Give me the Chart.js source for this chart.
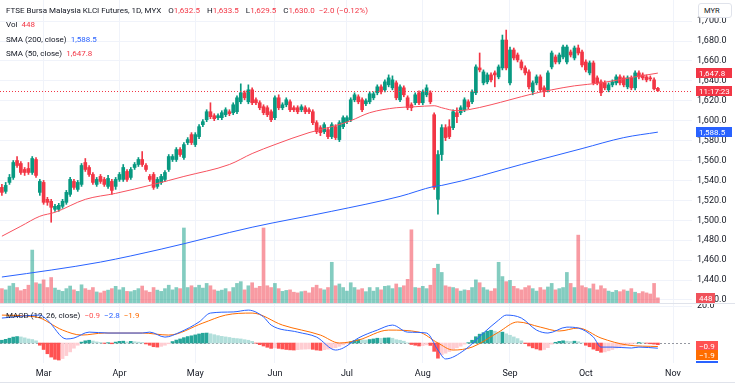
<!DOCTYPE html>
<html>
<head>
<meta charset="utf-8">
<script src="https://cdn.jsdelivr.net/npm/chart.js@4.4.1/dist/chart.umd.min.js"></script>
<style>
  html, body { margin: 0; padding: 0; background: #fff; }
  #wrap { position: relative; width: 735px; height: 383px; overflow: hidden; font-family: Roboto, Arial, sans-serif; }
  canvas { position: absolute; left: 0; }
  #main { top: 0; }
  #osc { top: 304px; }
  .leg { position: absolute; left: 6px; font-size: 8px; color: #131722; white-space: nowrap; line-height: 10px; }
  .leg span { margin-left: 4px; }
  .leg span.v { margin-left: 0; }
  .leg b { font-weight: normal; margin-left: 7px; }
  .sep { position: absolute; left: 0; width: 735px; height: 1px; background: #e0e3eb; }
  #cur { position: absolute; left: 698px; top: 3px; width: 34px; height: 15px; border: 1px solid #e0e3eb; border-radius: 3px; font-size: 7.5px; line-height: 13px; color: #131722; padding-left: 5px; box-sizing: border-box; background: #fff; }
</style>
</head>
<body>
<div id="wrap">
  <canvas id="main" width="735" height="304"></canvas>
  <canvas id="osc" width="735" height="79"></canvas>
  <div class="sep" style="top:303px"></div>
  <div class="sep" style="top:382px"></div>
  <div id="cur">MYR</div>
  <div class="leg" id="l1" style="top:6px"></div>
  <div class="leg" id="l2" style="top:20px"></div>
  <div class="leg" id="l3" style="top:35px"></div>
  <div class="leg" id="l4" style="top:49px"></div>
  <div class="leg" id="l5" style="top:311px"></div>
</div>
<script>
// Daily candles, mid Feb -> 25 Oct (bar index 0..173)
const opens = [
  1533,1529,1538,1543,1560,1557,1551,1552,1548,1561,
  1528,1538,1521,1519,1511,1511,1514,1518,1526,1539,
  1531,1536,1558,1553,1546,1536,1544,1541,1534,1539,
  1534,1541,1541,1549,1543,1553,1556,1561,1555,1544,
  1546,1534,1538,1541,1551,1561,1561,1571,1563,1578,
  1586,1576,1584,1596,1601,1609,1605,1603,1603,1606,
  1609,1608,1609,1619,1628,1619,1631,1621,1618,1614,
  1613,1609,1603,1623,1613,1616,1619,1613,1613,1611,
  1613,1611,1609,1598,1593,1589,1591,1584,1594,1581,
  1594,1599,1601,1621,1624,1621,1617,1619,1623,1628,
  1634,1631,1636,1633,1638,1621,1633,1623,1616,1618,
  1628,1618,1626,1628,1606,1521,1566,1593,1594,1593,
  1608,1608,1611,1619,1619,1628,1653,1638,1639,1646,
  1648,1644,1653,1681,1638,1671,1666,1659,1653,1649,
  1629,1638,1644,1633,1631,1654,1664,1659,1664,1659,
  1669,1663,1673,1669,1659,1648,1658,1643,1639,1638,
  1631,1636,1638,1644,1643,1634,1643,1633,1648,1646,
  1644,1643,1641,1632.5
];
const highs = [
  1536,1538,1546,1560,1564,1559,1553,1558,1564,1563,
  1541,1540,1523,1521,1516,1517,1521,1530,1543,1541,
  1540,1557,1562,1555,1548,1543,1546,1543,1545,1541,
  1543,1548,1556,1551,1553,1558,1563,1569,1557,1546,
  1548,1543,1546,1550,1566,1566,1573,1573,1578,1583,
  1588,1588,1596,1601,1611,1618,1607,1607,1610,1613,
  1611,1618,1625,1637,1630,1636,1633,1623,1620,1616,
  1615,1611,1625,1626,1618,1623,1621,1615,1615,1616,
  1615,1613,1611,1600,1595,1598,1593,1598,1596,1600,
  1605,1605,1623,1628,1626,1623,1622,1629,1629,1636,
  1636,1641,1646,1645,1640,1636,1635,1625,1618,1628,
  1630,1631,1636,1630,1608,1570,1596,1596,1601,1611,
  1613,1615,1623,1621,1631,1656,1668,1651,1648,1648,
  1650,1656,1686,1691,1674,1673,1668,1661,1655,1651,
  1640,1646,1646,1635,1650,1670,1666,1668,1676,1676,
  1671,1675,1676,1671,1661,1660,1660,1645,1641,1640,
  1638,1641,1646,1646,1645,1645,1645,1650,1650,1648,
  1646,1645,1643,1633.5
];
const lows = [
  1525,1527,1536,1541,1553,1546,1545,1546,1546,1543,
  1525,1516,1515,1498,1509,1509,1512,1516,1524,1531,
  1529,1534,1549,1544,1536,1534,1537,1534,1532,1526,
  1531,1539,1539,1539,1541,1551,1554,1554,1549,1539,
  1531,1532,1536,1539,1549,1559,1559,1564,1561,1576,
  1576,1574,1582,1594,1599,1602,1600,1601,1601,1604,
  1605,1606,1607,1617,1621,1617,1616,1616,1611,1606,
  1604,1599,1601,1611,1611,1614,1609,1609,1607,1609,
  1607,1607,1596,1587,1585,1587,1582,1582,1581,1579,
  1592,1597,1599,1619,1617,1609,1615,1617,1621,1626,
  1627,1629,1634,1631,1621,1619,1624,1611,1610,1616,
  1616,1616,1624,1617,1531,1506,1560,1580,1582,1591,
  1598,1606,1609,1612,1617,1626,1649,1636,1637,1639,
  1634,1642,1651,1651,1636,1661,1659,1651,1646,1632,
  1626,1636,1629,1624,1629,1652,1657,1657,1662,1657,
  1664,1661,1666,1654,1649,1646,1636,1636,1625,1631,
  1629,1634,1636,1636,1634,1632,1631,1631,1642,1641,
  1639,1640,1631,1629.5
];
const closes = [
  1528,1535,1543,1558,1555,1548,1548,1548,1562,1545,
  1539,1518,1518,1513,1514,1515,1519,1528,1541,1533,
  1538,1555,1551,1546,1538,1541,1539,1536,1542,1530,
  1541,1546,1553,1541,1551,1556,1561,1556,1551,1541,
  1533,1541,1544,1548,1564,1564,1571,1566,1576,1581,
  1578,1586,1594,1599,1609,1604,1602,1605,1608,1611,
  1607,1616,1623,1628,1623,1631,1618,1618,1613,1608,
  1606,1601,1623,1613,1616,1621,1611,1611,1609,1614,
  1609,1609,1598,1589,1588,1596,1584,1596,1583,1598,
  1603,1603,1621,1626,1619,1611,1620,1627,1627,1634,
  1629,1639,1643,1641,1623,1634,1626,1613,1613,1626,
  1618,1629,1633,1619,1533,1566,1593,1583,1584,1609,
  1604,1613,1621,1614,1629,1654,1651,1649,1646,1641,
  1646,1654,1681,1653,1671,1663,1661,1653,1648,1634,
  1638,1644,1631,1629,1648,1668,1659,1666,1674,1674,
  1666,1673,1668,1656,1651,1658,1638,1638,1628,1633,
  1636,1639,1644,1638,1636,1643,1633,1648,1644,1643,
  1641,1642,1632,1630.0
];
const volumes = [
  1120,1030,1310,1500,1200,970,1070,1370,3930,1550,
  1460,1760,1200,1930,1160,1010,920,1120,1310,1030,
  920,1400,1120,1010,1200,880,810,940,1010,1120,
  1290,1030,1200,920,900,990,1120,1310,970,860,
  1200,1010,920,1120,1370,1030,1200,1120,5540,1200,
  1330,1200,1370,1160,1500,1330,1030,940,1010,1120,
  900,1200,1500,1630,1030,1330,1550,1160,1290,5540,
  1330,1200,1500,1120,920,990,1030,860,810,900,
  940,810,1200,1370,1120,1030,1200,3040,1330,1460,
  1200,940,1550,1200,1030,1120,900,1200,940,1200,
  1030,1290,1330,1120,1460,1200,1330,1800,5410,1200,
  1160,1290,1120,1370,2600,2900,2300,1330,1240,1200,
  1120,940,1030,990,1200,1760,1550,1200,1030,940,
  1120,3040,2000,1630,1720,1290,1120,1030,1200,1330,
  1120,940,1200,1030,1240,1500,1030,1120,1200,2300,
  1500,1200,5020,1330,1200,1120,1460,1030,1330,1120,
  940,860,990,900,1030,940,1120,860,770,900,
  810,730,1500,448
];

// moving averages at a few bars: [bar index, value]
const sma50Idx = [0, 5, 10, 14, 22, 30, 40, 48, 60, 66, 72, 81, 88, 92, 97, 104, 109, 114, 116, 120, 123, 129, 134, 140, 145, 151, 158, 167, 173];
const sma50Val = [1484, 1494, 1504, 1508, 1521, 1527, 1536, 1544, 1556, 1567, 1576, 1588, 1595, 1600, 1608, 1613, 1614, 1615, 1613, 1610, 1611, 1616, 1621, 1627, 1631, 1635, 1638, 1644, 1647.8];
const sma200Idx = [0, 13, 26, 42, 66, 87, 105, 114, 116, 137, 153, 164, 173];
const sma200Val = [1443, 1450, 1458, 1471, 1493, 1509, 1524, 1534, 1535, 1556, 1572, 1583, 1588.5];

// MACD (12, 26, close)
const macdIdx = [0, 10, 12, 17, 19, 23, 28, 33, 37, 39, 43, 47, 52, 55, 61, 65, 69, 71, 78, 83, 88, 90, 94, 99, 103, 107, 112, 115, 117, 122, 127, 131, 133, 137, 141, 144, 149, 152, 156, 158, 161, 166, 168, 173];
const macdVal = [13.5, 15.1, 12.4, 2.2, 2.7, 5.9, 5.4, 5.4, 5.4, 5.9, 3.2, 5.9, 11.4, 16.2, 16.8, 17.8, 14.1, 9.7, 5.9, 3.2, -3.8, -2.7, 2.7, 7.0, 9.7, 5.9, 5.4, -3.8, -8.6, -3.8, 5.4, 12.4, 15.1, 13.5, 7.0, 5.4, 8.6, 8.1, 3.2, -2.2, -2.2, -2.7, -2.2, -2.8];
const signalIdx = [0, 9, 16, 21, 27, 37, 44, 53, 59, 66, 74, 84, 89, 94, 102, 110, 115, 119, 124, 131, 136, 142, 147, 152, 158, 165, 173];
const signalVal = [15.1, 14.1, 7.0, 4.3, 5.4, 5.4, 4.3, 10.8, 15.1, 16.2, 9.7, 4.3, 0, 1.6, 7.0, 5.9, 0, -3.8, -2.2, 5.9, 11.4, 8.6, 6.5, 8.1, 2.7, -1.1, -1.9];
const histVal = [
  1.5, 2.0, 2.6, 3.2, 3.5, 3.3, 2.8, 2.2, 1.9, 1.2,
  -1.2, -3.5, -5.8, -7.6, -8.8, -9.2, -8.4, -6.8, -4.8, -2.8,
  -1.2, 0.5, 1.2, 1.5, 1.1, 0.6, 0.3, -0.2, 0.2, -0.4,
  0.5, 0.9, 1.0, 0.6, 0.9, 0.7, 0.5, 0.3, -0.5, -1.2,
  -2.0, -2.2, -1.8, -1.2, -0.4, 0.8, 1.6, 2.2, 2.9, 3.5,
  3.9, 4.4, 4.9, 5.3, 5.4, 5.0, 4.5, 4.0, 3.6, 3.3,
  3.0, 2.6, 2.4, 2.2, 1.8, 1.5, 0.9, -0.1, -0.9, -1.6,
  -2.3, -2.9, -2.6, -2.9, -3.2, -3.5, -3.7, -3.8, -3.6, -3.4,
  -3.3, -3.2, -3.4, -3.8, -4.0, -3.6, -3.3, -2.8, -2.5, -1.8,
  -1.0, -0.3, 0.6, 1.4, 1.8, 1.7, 1.6, 1.9, 2.2, 2.6,
  2.5, 2.7, 2.8, 2.6, 1.8, 1.5, 1.0, 0.1, -0.8, -1.2,
  -1.6, -1.4, -1.0, -1.3, -4.5, -8.2, -6.4, -5.5, -4.6, -3.4,
  -2.6, -1.7, -0.6, 0.2, 1.5, 3.4, 4.8, 5.6, 6.4, 6.9,
  6.4, 5.8, 5.9, 5.0, 4.2, 3.3, 2.4, 1.2, -0.3, -1.6,
  -2.6, -3.2, -3.8, -3.5, -2.5, -0.6, 0.4, 0.9, 1.2, 1.0,
  0.8, 1.0, 0.7, 0.1, -1.2, -2.0, -3.3, -4.1, -5.0, -4.8,
  -4.2, -3.5, -2.7, -2.1, -1.6, -1.0, -0.6, -0.2, 0.3, 0.2,
  -0.1, -0.4, -0.6, -0.9
];

// axes
const monthIdx = [11, 31, 51, 72, 91, 111, 134, 154, 177];
const monthLabels = ['Mar', 'Apr', 'May', 'Jun', 'Jul', 'Aug', 'Sep', 'Oct', 'Nov'];
const priceTicks = [1420, 1440, 1460, 1480, 1500, 1520, 1540, 1560, 1580, 1600, 1620, 1640, 1660, 1680, 1700];
const macdTicks = [20];
const countdown = '11:17:23';

const UP = '#089981', DOWN = '#F23645';
const GRID = '#f0f3fa';
const FONT = 'Roboto, Arial, sans-serif';
Chart.defaults.font.family = FONT;

const last = closes.length - 1;
const idx = closes.map((_, i) => i);
const up = i => closes[i] >= opens[i];
const fmt = v => Math.abs(v).toLocaleString('en-US', { minimumFractionDigits: 1, maximumFractionDigits: 1 });
const sfmt = v => (v < 0 ? '\u2212' : '') + fmt(v);
const pts = (xs, ys) => xs.map((x, k) => ({ x: x, y: ys[k] }));

// legend text
const lc = up(last) ? UP : DOWN;
const chg = closes[last] - closes[last - 1];
const pct = chg / closes[last - 1] * 100;
const col = (c, t, cls) => `<span class="${cls || ''}" style="color:${c}">${t}</span>`;
document.getElementById('l1').innerHTML =
  'FTSE Bursa Malaysia KLCI Futures, 1D, MYX' +
  '<b>O</b>' + col(lc, fmt(opens[last]), 'v') +
  '<b>H</b>' + col(lc, fmt(highs[last]), 'v') +
  '<b>L</b>' + col(lc, fmt(lows[last]), 'v') +
  '<b>C</b>' + col(lc, fmt(closes[last]), 'v') +
  col(lc, sfmt(chg) + ' (' + (pct < 0 ? '\u2212' : '') + Math.abs(pct).toFixed(2) + '%)');
document.getElementById('l2').innerHTML = 'Vol' + col(lc, volumes[last]);
document.getElementById('l3').innerHTML = 'SMA (200, close)' + col('#2962FF', fmt(sma200Val[sma200Val.length - 1]));
document.getElementById('l4').innerHTML = 'SMA (50, close)' + col(DOWN, fmt(sma50Val[sma50Val.length - 1]));
document.getElementById('l5').innerHTML = 'MACD (12, 26, close)' +
  col('#FF5252', sfmt(histVal[last])) + col('#2962FF', sfmt(macdVal[macdVal.length - 1])) + col('#FF6D00', sfmt(signalVal[signalVal.length - 1]));

function tag(ctx, text, yc, bg, w) {
  ctx.fillStyle = bg;
  ctx.fillRect(696, Math.round(yc) - 5, w, 10);
  ctx.fillStyle = '#fff';
  ctx.font = '8px ' + FONT;
  ctx.textBaseline = 'middle';
  ctx.textAlign = 'left';
  ctx.fillText(text, 699, Math.round(yc) + 0.5);
}

const xScale = (display) => ({
  type: 'linear', min: -0.5, max: 182, offset: false,
  afterBuildTicks: s => { s.ticks = monthIdx.map(v => ({ value: v })); },
  ticks: {
    display: display, autoSkip: false, maxRotation: 0, padding: 5,
    color: '#131722', font: { size: 9 },
    callback: v => monthLabels[monthIdx.indexOf(v)]
  },
  grid: { color: GRID, drawTicks: false, offset: false },
  border: { display: false },
  afterFit: s => { s.height = display ? 20 : 0; s.paddingLeft = 0; s.paddingRight = 0; }
});

const mainTags = {
  id: 'mainTags',
  afterDatasetsDraw(chart) {
    const ctx = chart.ctx, y = chart.scales.y, a = chart.chartArea;
    const yc = y.getPixelForValue(closes[last]);
    ctx.save();
    ctx.strokeStyle = DOWN; ctx.lineWidth = 1; ctx.setLineDash([1, 2]);
    ctx.beginPath(); ctx.moveTo(a.left, Math.round(yc) + 0.5); ctx.lineTo(a.right, Math.round(yc) + 0.5); ctx.stroke();
    ctx.restore();
  },
  afterDraw(chart) {
    const ctx = chart.ctx, y = chart.scales.y, yv = chart.scales.yv;
    ctx.save();
    tag(ctx, fmt(sma50Val[sma50Val.length - 1]), y.getPixelForValue(sma50Val[sma50Val.length - 1]), DOWN, 36);
    tag(ctx, countdown, y.getPixelForValue(closes[last]), DOWN, 36);
    tag(ctx, fmt(sma200Val[sma200Val.length - 1]), y.getPixelForValue(sma200Val[sma200Val.length - 1]), '#2962FF', 36);
    tag(ctx, String(volumes[last]), yv.getPixelForValue(volumes[last]), '#F0525B', 19);
    ctx.restore();
  }
};

new Chart(document.getElementById('main'), {
  type: 'bar',
  data: {
    datasets: [
      {
        type: 'line', yAxisID: 'y', order: 0,
        data: pts(sma50Idx, sma50Val),
        borderColor: '#F7525F', borderWidth: 1, pointRadius: 0, cubicInterpolationMode: 'monotone'
      },
      {
        type: 'line', yAxisID: 'y', order: 0,
        data: pts(sma200Idx, sma200Val),
        borderColor: '#2962FF', borderWidth: 1, pointRadius: 0, cubicInterpolationMode: 'monotone'
      },
      {
        yAxisID: 'y', order: 1, grouped: false, barThickness: 3, minBarLength: 1,
        data: idx.map(i => ({ x: i, y: [Math.min(opens[i], closes[i]), Math.max(opens[i], closes[i])] })),
        backgroundColor: idx.map(i => up(i) ? UP : DOWN)
      },
      {
        yAxisID: 'y', order: 2, grouped: false, barThickness: 1,
        data: idx.map(i => ({ x: i, y: [lows[i], highs[i]] })),
        backgroundColor: idx.map(i => up(i) ? UP : DOWN)
      },
      {
        yAxisID: 'yv', order: 3, grouped: false, barThickness: 3,
        data: idx.map(i => ({ x: i, y: volumes[i] })),
        backgroundColor: idx.map(i => up(i) ? 'rgba(8,153,129,0.5)' : 'rgba(242,54,69,0.5)')
      }
    ]
  },
  options: {
    responsive: false, animation: false, devicePixelRatio: 1,
    layout: { padding: 0 },
    plugins: { legend: { display: false }, tooltip: { enabled: false } },
    scales: {
      x: xScale(false),
      y: {
        position: 'right', min: 1415.9, max: 1721.2,
        afterBuildTicks: s => { s.ticks = priceTicks.map(v => ({ value: v })); },
        ticks: { color: '#131722', font: { size: 9 }, padding: 5, callback: v => fmt(v) },
        grid: { color: GRID, drawTicks: false },
        border: { display: false },
        afterFit: s => { s.width = 43; s.paddingTop = 0; s.paddingBottom = 0; }
      },
      yv: {
        display: false, min: 0, max: 22160
      }
    }
  },
  plugins: [mainTags]
});

const oscTags = {
  id: 'oscTags',
  beforeDatasetsDraw(chart) {
    const ctx = chart.ctx, y = chart.scales.y, a = chart.chartArea;
    const y0 = Math.round(y.getPixelForValue(0)) + 0.5;
    ctx.save();
    ctx.strokeStyle = '#9598a1'; ctx.lineWidth = 1; ctx.setLineDash([2, 2]);
    ctx.beginPath(); ctx.moveTo(a.left, y0); ctx.lineTo(a.right, y0); ctx.stroke();
    ctx.restore();
  },
  afterDraw(chart) {
    const ctx = chart.ctx, a = chart.chartArea;
    ctx.save();
    ctx.beginPath(); ctx.rect(0, 0, 735, a.bottom); ctx.clip();
    tag(ctx, sfmt(histVal[last]), 41.5, '#FF5252', 22);
    tag(ctx, sfmt(signalVal[signalVal.length - 1]), 50.5, '#FF6D00', 22);
    tag(ctx, sfmt(macdVal[macdVal.length - 1]), 62, '#2962FF', 22);
    ctx.restore();
  }
};

new Chart(document.getElementById('osc'), {
  type: 'bar',
  data: {
    datasets: [
      {
        type: 'line', order: 0, data: pts(macdIdx, macdVal),
        borderColor: '#2962FF', borderWidth: 1, pointRadius: 0, cubicInterpolationMode: 'monotone'
      },
      {
        type: 'line', order: 0, data: pts(signalIdx, signalVal),
        borderColor: '#FF6D00', borderWidth: 1, pointRadius: 0, cubicInterpolationMode: 'monotone'
      },
      {
        order: 1, grouped: false, barThickness: 3,
        data: idx.map(i => ({ x: i, y: histVal[i] })),
        backgroundColor: idx.map(i => {
          const h = histVal[i], p = i > 0 ? histVal[i - 1] : h;
          if (h >= 0) return h >= p ? '#26A69A' : '#B2DFDB';
          return h < p ? '#FF5252' : '#FFCDD2';
        })
      }
    ]
  },
  options: {
    responsive: false, animation: false, devicePixelRatio: 1,
    layout: { padding: 0 },
    plugins: { legend: { display: false }, tooltip: { enabled: false } },
    scales: {
      x: xScale(true),
      y: {
        position: 'right', min: -10.8, max: 21.1,
        afterBuildTicks: s => { s.ticks = macdTicks.map(v => ({ value: v })); },
        ticks: { color: '#131722', font: { size: 9 }, padding: 5, callback: v => fmt(v) },
        grid: { color: GRID, drawTicks: false },
        border: { display: false },
        afterFit: s => { s.width = 43; s.paddingTop = 0; s.paddingBottom = 0; }
      }
    }
  },
  plugins: [oscTags]
});
</script>
</body>
</html>
